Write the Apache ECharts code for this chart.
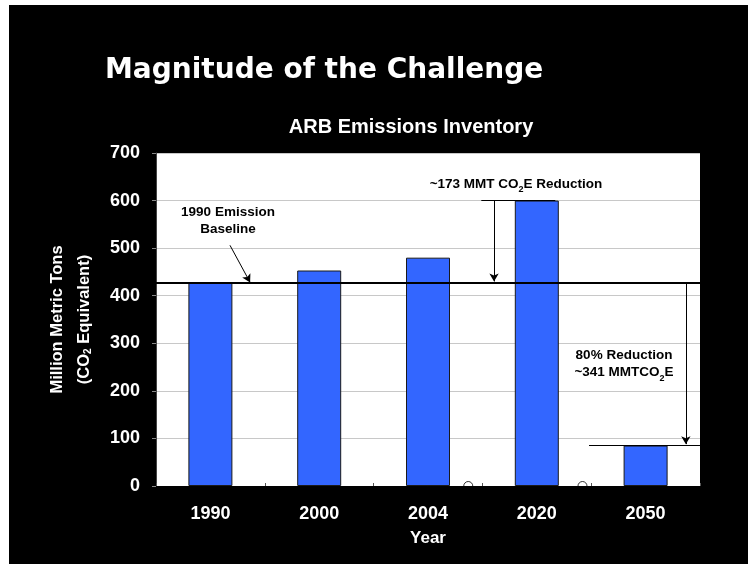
<!DOCTYPE html>
<html>
<head>
<meta charset="utf-8">
<script src="https://cdn.jsdelivr.net/npm/echarts@6/dist/echarts.min.js"></script>
<style>
  html, body { margin: 0; padding: 0; background: #fff; }
  #main { width: 748px; height: 564px; }
</style>
</head>
<body>
<div id="main"></div>
<script>
var years = ["1990", "2000", "2004", "2020", "2050"];
var emissions = [427, 453, 480, 600, 85];
var baseline = 427;
var yMin = 0, yMax = 700, yStep = 100;
// small round markers sitting on the x axis (x in category units, 0..5)
var axisMarks = [[2.87, 0], [3.92, 0]];
// annotation lines, [x, y] in category units / MMT
var arrow1990 = [[0.68, 506], [0.865, 428]];
var cap2020 = [[2.99, 600], [3.67, 600]];
var arrow2020 = [[3.107, 600], [3.107, 430]];
var cap2050 = [[3.98, 85], [5, 85]];
var arrow2050 = [[4.87, 427], [4.87, 88]];

var chart = echarts.init(document.getElementById("main"));

var bold = "Liberation Sans";
var white = "#fff";

function seg(p, arrow) {
  return [
    { coord: p[0], symbol: "none" },
    { coord: p[1], symbol: arrow ? "arrow" : "none" }
  ];
}

var subRich = {
  b: { fontFamily: bold, fontWeight: "bold", fontSize: 13.5, color: "#000", lineHeight: 17 },
  s: { fontFamily: bold, fontWeight: "bold", fontSize: 9, color: "#000", verticalAlign: "bottom", lineHeight: 17, padding: [0, 0, -2, 0] }
};

var option = {
  backgroundColor: "#000",
  animation: false,
  grid: {
    left: 156, right: 48, top: 153, bottom: 78,
    show: true, backgroundColor: "#fff", borderWidth: 0
  },
  xAxis: [
    {
      type: "category",
      data: years,
      axisLine: { show: true, lineStyle: { color: "#000", width: 1 } },
      axisTick: { show: true, inside: true, length: 3, lineStyle: { color: "#555" } },
      axisLabel: { color: white, fontFamily: bold, fontWeight: "bold", fontSize: 18, margin: 19 },
      name: "Year",
      nameLocation: "middle",
      nameGap: 44,
      nameTextStyle: { color: white, fontFamily: bold, fontWeight: "bold", fontSize: 17 }
    },
    { type: "value", min: 0, max: 5, show: false }
  ],
  yAxis: {
    type: "value",
    min: yMin, max: yMax, interval: yStep,
    axisLine: { show: true, lineStyle: { color: "#444", width: 1 } },
    axisTick: { show: true, length: 4, lineStyle: { color: "#888" } },
    splitLine: { lineStyle: { color: "#c8c8c8", width: 1 } },
    axisLabel: { color: white, fontFamily: bold, fontWeight: "bold", fontSize: 18, margin: 16 },
    name: "{a|Million Metric Tons}\n{a|(CO}{s|2}{a| Equivalent)}",
    nameLocation: "middle",
    nameGap: 58,
    nameTextStyle: {
      rich: {
        a: { color: white, fontFamily: bold, fontWeight: "bold", fontSize: 16.5, lineHeight: 27 },
        s: { color: white, fontFamily: bold, fontWeight: "bold", fontSize: 10, lineHeight: 27, verticalAlign: "bottom", padding: [0, 0, 5, 0] }
      }
    }
  },
  graphic: [
    { type: "rect", left: 0, top: 0, shape: { width: 9, height: 564 }, style: { fill: "#fff" } },
    { type: "rect", left: 0, top: 0, shape: { width: 748, height: 5 }, style: { fill: "#fff" } },
    {
      type: "text", x: 105, y: 71,
      style: {
        text: "Magnitude of the Challenge",
        fill: white, font: "bold 28px 'DejaVu Sans'",
        verticalAlign: "middle",
        shadowColor: "#3d6b73", shadowOffsetX: 2, shadowOffsetY: 2, shadowBlur: 0
      }
    },
    {
      type: "text", x: 411, y: 127,
      style: { text: "ARB Emissions Inventory", fill: white, font: "bold 20px 'Liberation Sans'", align: "center", verticalAlign: "middle" }
    },
    {
      type: "text", x: 228, y: 221, z: 100,
      style: { text: "1990 Emission\nBaseline", fill: "#000", font: "bold 13.5px 'Liberation Sans'", lineHeight: 17, align: "center", verticalAlign: "middle" }
    },
    {
      type: "text", x: 516, y: 184, z: 100,
      style: { text: "{b|~173 MMT CO}{s|2}{b|E Reduction}", rich: subRich, align: "center", verticalAlign: "middle" }
    },
    {
      type: "text", x: 624, y: 364, z: 100,
      style: { text: "{b|80% Reduction}\n{b|~341 MMTCO}{s|2}{b|E}", rich: subRich, align: "center", verticalAlign: "middle" }
    }
  ],
  series: [
    {
      type: "bar",
      data: emissions,
      barWidth: 44,
      itemStyle: { color: "#3366ff", borderColor: "#1a1a1a", borderWidth: 1 },
      markLine: {
        silent: true,
        symbol: "none",
        label: { show: false },
        lineStyle: { color: "#000", width: 2, type: "solid" },
        data: [{ yAxis: baseline }]
      }
    },
    {
      type: "scatter",
      xAxisIndex: 1,
      data: axisMarks,
      symbol: "circle",
      symbolSize: 9,
      itemStyle: { color: "transparent", borderColor: "#000", borderWidth: 1 },
      z: 5,
      markLine: {
        silent: true,
        symbolSize: [7, 8],
        label: { show: false },
        lineStyle: { color: "#000", width: 1, type: "solid" },
        data: [
          seg(arrow1990, true),
          seg(cap2020, false),
          seg(arrow2020, true),
          seg(cap2050, false),
          seg(arrow2050, true)
        ]
      }
    }
  ]
};

chart.setOption(option);
</script>
</body>
</html>
